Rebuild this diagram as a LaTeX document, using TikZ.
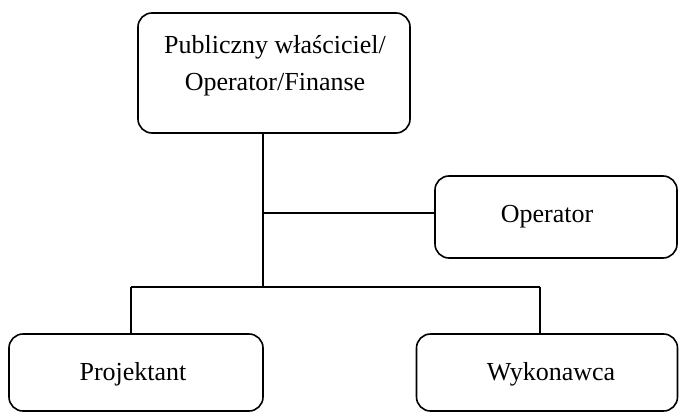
\documentclass[tikz,border=0pt]{standalone}
\usepackage{fontspec}
\setmainfont{Liberation Serif}
\begin{document}
\begin{tikzpicture}[x=1pt,y=-1pt,
  box/.style={draw, line width=1.6pt, rounded corners=14pt, inner sep=0pt},
  lbl/.style={font=\fontsize{26}{37}\selectfont, align=center, inner sep=0pt},
  conn/.style={line width=1.6pt}]
\useasboundingbox (0,0) rectangle (679,414);
\node[box, minimum width=272pt, minimum height=120pt] (top) at (274,73) {};
\node[lbl] (toptext) at (275,66) {Publiczny właściciel/\\Operator/Finanse};
\node[box, minimum width=242pt, minimum height=82pt,
  label={[lbl, xshift=-9pt]center:Operator}] (op) at (556,217) {};
\node[box, minimum width=254pt, minimum height=77pt,
  label={[lbl, xshift=-3pt, yshift=-2pt]center:Projektant}] (proj) at (136,372.5) {};
\node[box, minimum width=261pt, minimum height=77pt,
  label={[lbl, xshift=4pt, yshift=-2pt]center:Wykonawca}] (wyk) at (547,372.5) {};
\coordinate (j1) at (263,213);
\coordinate (j2) at (263,287);
\coordinate (jl) at (131,287);
\coordinate (jr) at (540,287);
\draw[conn] (top.south -| j1) -- (j2);
\draw[conn] (j1) -- (j1 -| op.west);
\draw[conn] (jl) -- (jr);
\draw[conn] (jl) -- (jl |- proj.north);
\draw[conn] (jr) -- (jr |- wyk.north);
\end{tikzpicture}
\end{document}
